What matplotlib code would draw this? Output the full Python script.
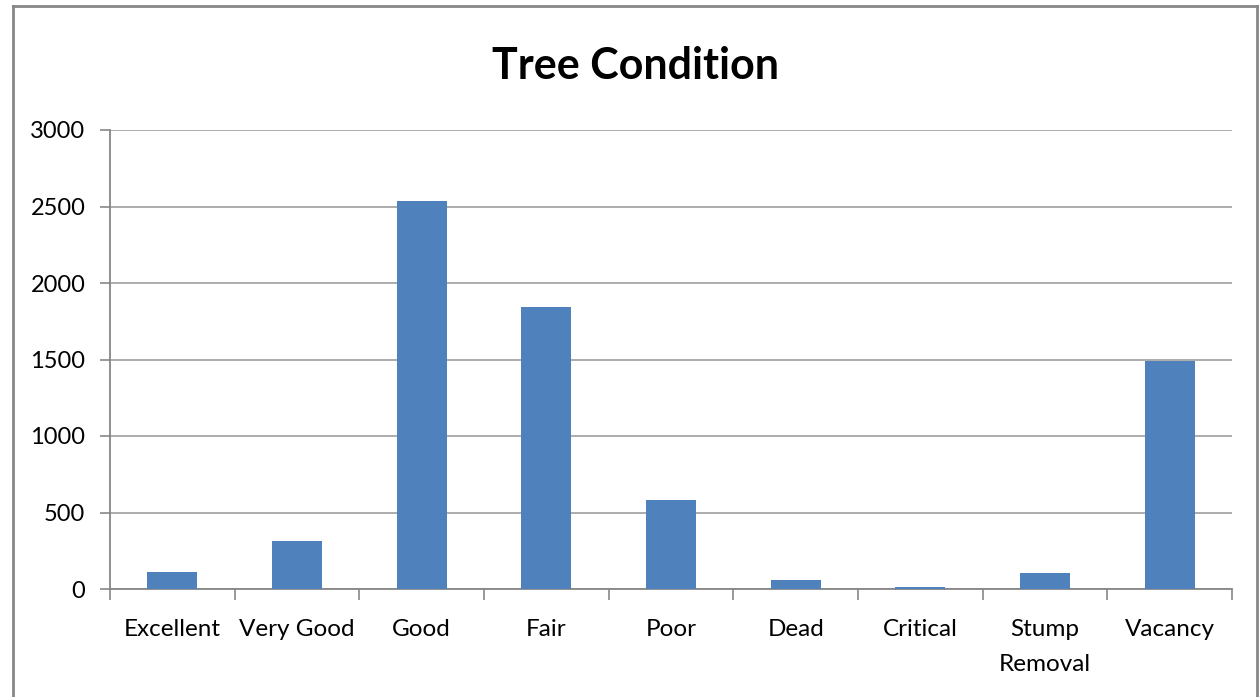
'''
    Tree Condition bar chart (Excel style).
'''

import numpy as np
import matplotlib.pyplot as plt
from matplotlib.lines import Line2D

# === data ===
categories = ['Excellent', 'Very Good', 'Good', 'Fair', 'Poor',
              'Dead', 'Critical', 'Stump\nRemoval', 'Vacancy']
counts = [112, 316, 2535, 1846, 584, 59, 11, 103, 1490]
y_ticks = [0, 500, 1000, 1500, 2000, 2500, 3000]

BAR_COLOR = '#4F81BD'
GRID_COLOR = '#A6A6A6'
AXIS_COLOR = '#878787'

W, H = 1260, 697
fig = plt.figure(figsize=(W/100, H/100), dpi=100)
plt.rcParams['font.family'] = ['Lato', 'DejaVu Sans']

# axes placed in pixel coords of the reference
left, right, top, bottom = 110, 1232, 130, 589
ax = fig.add_axes([left/W, 1 - bottom/H, (right-left)/W, (bottom-top)/H])

x = np.arange(len(categories))
ax.bar(x, counts, width=0.4, color=BAR_COLOR, zorder=3)

ax.set_xlim(-0.5, len(categories) - 0.5)
ax.set_ylim(0, 3000)
ax.set_yticks(y_ticks)
ax.set_yticklabels([str(v) for v in y_ticks], fontsize=17)
ax.yaxis.grid(True, color=GRID_COLOR, linewidth=1.3, zorder=0)
ax.tick_params(axis='y', length=7.2, width=1.2, color=AXIS_COLOR, pad=10.5)

# labels at category centers, tick marks at boundaries
ax.set_xticks(x)
ax.set_xticklabels(categories, fontsize=17.5, linespacing=1.85, va='top')
ax.set_xticks(np.arange(len(categories) + 1) - 0.5, minor=True)
ax.tick_params(axis='x', which='major', length=0, pad=21.5)
ax.tick_params(axis='x', which='minor', length=8, width=1.2, color=AXIS_COLOR)

for s in ['top', 'right']:
    ax.spines[s].set_visible(False)
for s in ['left', 'bottom']:
    ax.spines[s].set_color(AXIS_COLOR)
    ax.spines[s].set_linewidth(1.3)

fig.text(636/W, 1 - 79/H, 'Tree Condition', fontsize=31, fontweight='bold',
         ha='center', va='baseline')

# outer chart border
bx0, by0, bx1 = 13/W, 1 - 6/H, 1257/W
for xs, ys in [([bx0, bx0], [0, by0]), ([bx0, bx1], [by0, by0]), ([bx1, bx1], [by0, 0])]:
    fig.add_artist(Line2D(xs, ys, color=AXIS_COLOR, linewidth=2))

fig.savefig('out.png', dpi=100)
